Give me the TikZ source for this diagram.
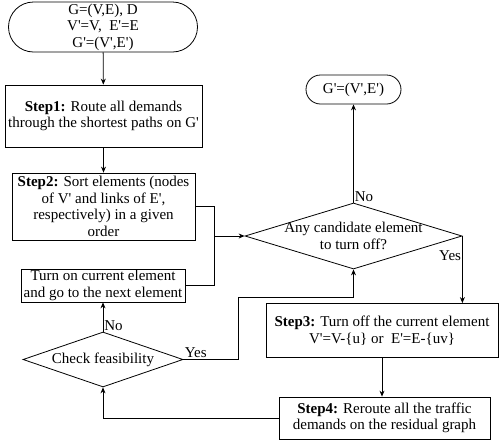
\documentclass[tikz,border=0pt]{standalone}
\usepackage{fontspec}
\setmainfont{Liberation Serif}[Ligatures=TeXOff]
\usetikzlibrary{shapes.geometric,arrows.meta}

\tikzset{
  box/.style={rectangle, draw, inner sep=0pt, align=center},
  terminal/.style={rectangle, draw, inner sep=0pt, align=center},
  decision/.style={diamond, draw, inner sep=0pt, align=center},
  lbl/.style={inner sep=1pt},
  flow/.style={-{Stealth[length=6pt,width=5pt]}}
}

\begin{document}
\begin{tikzpicture}[x=1pt, y=-1pt, line width=0.8pt,
    every node/.style={font=\fontsize{15}{16.5}\selectfont}]

        \useasboundingbox (0,0) rectangle (499,445);

        \begin{scope}
          \node[terminal, minimum width=189pt, minimum height=50pt, rounded corners=25pt] (1) at (103,27)
            {G=(V,E), D\\V'=V,\ \ E'=E\\G'=(V',E')};
          \node[box, minimum width=197pt, minimum height=62pt] (2) at (103.5,116)
            {\textbf{Step1:} Route all demands\\through the shortest paths on G'};
          \node[box, minimum width=183pt, minimum height=67pt] (3) at (103.5,206.5)
            {\textbf{Step2:} Sort elements (nodes\\of V' and links of E',\\respectively) in a given\\order};
          \node[terminal, minimum width=95pt, minimum height=29pt, rounded corners=14.5pt] (4) at (353.5,89.5)
            {G'=(V',E')};
          \node[decision, aspect=3.29, minimum width=217pt, minimum height=66pt, inner sep=-5pt] (5) at (353.5,236)
            {Any candidate element\\to turn off?};
          \node[box, minimum width=164pt, minimum height=33pt] (6) at (103,285.5)
            {Turn on current element\\and go to the next element};
          \node[decision, aspect=2.91, minimum width=160pt, minimum height=55pt] (7) at (103,359.5)
            {Check feasibility};
          \node[box, minimum width=232pt, minimum height=54pt] (8) at (382,330.5)
            {\textbf{Step3:} Turn off the current element\\V'=V-\{u\} or\ \ E'=E-\{uv\}};
          \node[box, minimum width=211pt, minimum height=42pt] (9) at (384.5,418)
            {\textbf{Step4:} Reroute all the traffic\\demands on the residual graph};
          \coordinate (j) at (214,236);
          \coordinate (k) at (238,297);
        \end{scope}

        \begin{scope}[every node/.style={lbl, font=\fontsize{15}{16.5}\selectfont}]
          \draw[flow] (1) -- (2);
          \draw[flow] (2) -- (3);
          \draw[flow] (3.east) -| (j) -- (5.west);
          \draw (6.east) -| (j);
          \draw[flow] (5.north) node[anchor=south west] {No} -- (4.south);
          \draw[flow] (5.east) node[anchor=north east, yshift=-13pt] {Yes} -- (5.east |- 8.north);
          \draw[flow] (8.south) -- (8.south |- 9.north);
          \draw[flow] (9.west) -| (7.south);
          \draw[flow] (7.north) node[anchor=south west] {No} -- (6.south);
          \draw[flow] (7.east) node[anchor=south west] {Yes} -| (k) -| (5.south);
        \end{scope}

      \end{tikzpicture}
\end{document}
